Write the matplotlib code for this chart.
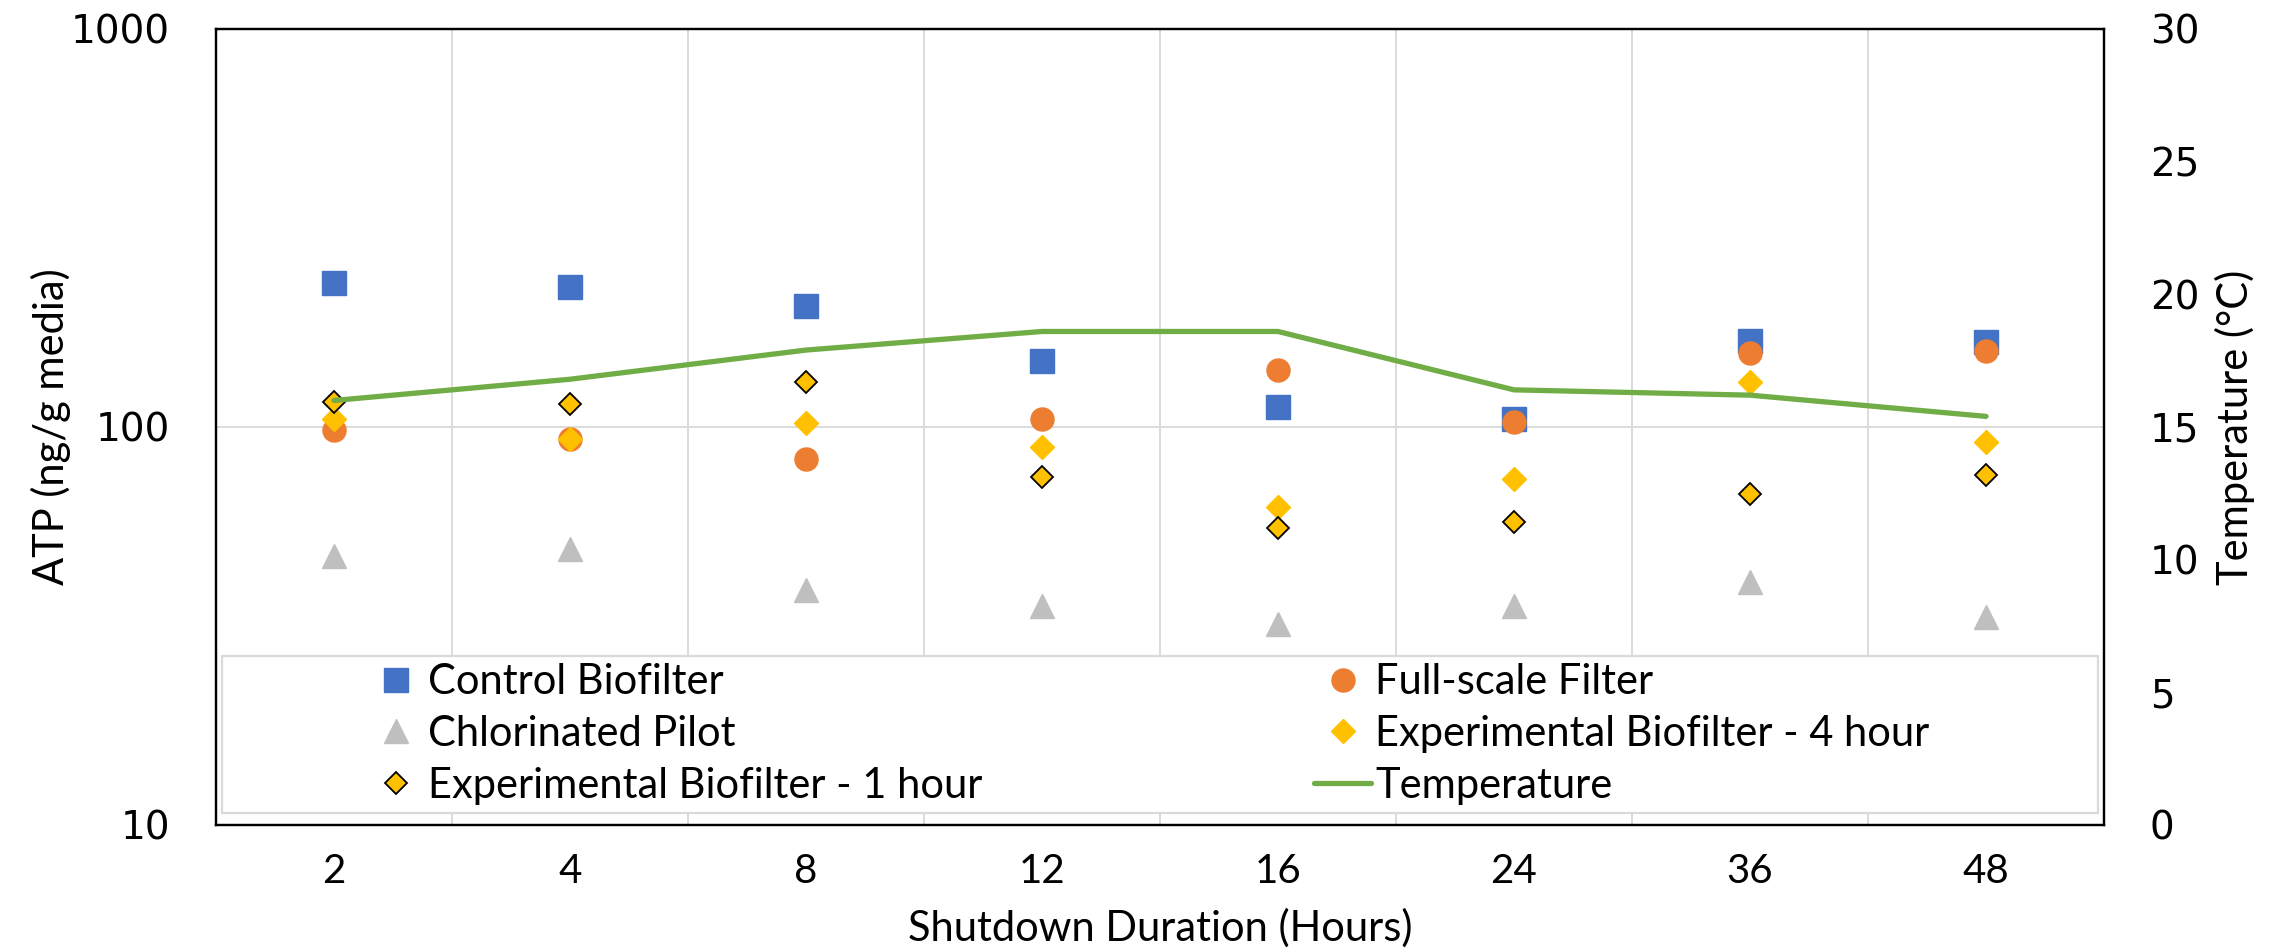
import numpy as np
import matplotlib
matplotlib.use("Agg")
from matplotlib import pyplot as plt
from matplotlib.patches import Rectangle
from matplotlib.ticker import FixedLocator, NullLocator, FixedFormatter


# shutdown durations (categorical x axis)
hours = ['2', '4', '8', '12', '16', '24', '36', '48']

# ATP (ng/g media), log axis
control = [230, 225, 201.6, 146.2, 112.3, 104.9, 164, 163.4]
full_scale = [98.3, 93.3, 82.9, 104.9, 139.3, 103, 153.8, 155.2]
chlorinated = [47.3, 49.3, 38.9, 35.4, 31.9, 35.4, 40.8, 33.4]
exp_4h = [105, 93.1, 102.2, 89.2, 63.1, 73.9, 130.1, 91.9]
exp_1h = [115.8, 114, 129.6, 74.9, 55.9, 57.8, 67.9, 75.8]

# temperature (deg C), right axis
temperature = [16.0, 16.8, 17.9, 18.6, 18.6, 16.4, 16.2, 15.4]

BLUE = '#4472C4'
ORANGE = '#ED7D31'
GRAY = '#BFBFBF'
YELLOW = '#FFC000'
GREEN = '#70AD47'
GRID = '#D9D9D9'

TXT_FONT = ['Lato', 'DejaVu Sans']
NUM_FONT = ['DejaVu Sans']

plt.rcParams['font.family'] = TXT_FONT

fig = plt.figure(figsize=(22.8, 9.51), dpi=100)
ax = fig.add_axes([216 / 2280, 1 - 825 / 951, 1888 / 2280, 796 / 951])
ax2 = ax.twinx()

x = np.arange(len(hours))
MS = 16.6

h_ctrl, = ax.plot(x, control, ls='none', marker='s', ms=MS, color=BLUE,
                  mec=BLUE, label='Control Biofilter')
h_full, = ax.plot(x, full_scale, ls='none', marker='o', ms=MS, color=ORANGE,
                  mec=ORANGE, label='Full-scale Filter')
h_chl, = ax.plot(x, chlorinated, ls='none', marker='^', ms=MS, color=GRAY,
                 mec=GRAY, label='Chlorinated Pilot')
h_4h, = ax.plot(x, exp_4h, ls='none', marker='D', ms=12.0, color=YELLOW,
                mec=YELLOW, label='Experimental Biofilter - 4 hour')
h_1h, = ax.plot(x, exp_1h, ls='none', marker='D', ms=11.4, color=YELLOW,
                mec='black', mew=1.3, label='Experimental Biofilter - 1 hour')
h_temp, = ax2.plot(x, temperature, color=GREEN, lw=3.8,
                   solid_capstyle='round', label='Temperature')

# left axis: log scale
ax.set_yscale('log')
ax.set_ylim(10, 1000)
ax.yaxis.set_major_locator(FixedLocator([10, 100, 1000]))
ax.yaxis.set_major_formatter(FixedFormatter(['10', '100', '1000']))
ax.yaxis.set_minor_locator(NullLocator())
ax.set_xlim(-0.5, len(hours) - 0.5)
ax.set_xticks(x)
ax.set_xticklabels(hours)
ax.set_xticks(np.arange(len(hours) - 1) + 0.5, minor=True)

ax.grid(True, axis='y', which='major', color=GRID, lw=1.3)
ax.grid(True, axis='x', which='minor', color=GRID, lw=1.3)
ax.set_axisbelow(True)

ax2.set_ylim(0, 30)
ax2.set_yticks(np.arange(0, 31, 5))

ax.tick_params(axis='both', which='both', length=0)
ax2.tick_params(axis='both', which='both', length=0)
ax.tick_params(axis='x', pad=20, labelsize=29)
ax.tick_params(axis='y', pad=33)
ax2.tick_params(axis='y', pad=33)
for lab in ax.get_yticklabels() + ax2.get_yticklabels():
    lab.set_fontfamily(NUM_FONT)
    lab.set_fontsize(28)

for a in (ax, ax2):
    for sp in a.spines.values():
        sp.set_color('black')
        sp.set_linewidth(1.6)

ax.set_xlabel('Shutdown Duration (Hours)', fontsize=30)
ax.xaxis.set_label_coords(0.5, (825 - 928) / 796)
ax.xaxis.label.set_va('center')
ax.set_ylabel('ATP (ng/g media)', fontsize=30)
ax.yaxis.set_label_coords((51 - 216) / 1888, 0.5)
ax.yaxis.label.set_va('center')
ax2.set_ylabel('Temperature (°C)', fontsize=30)
ax2.yaxis.set_label_coords((2235 - 216) / 1888, 0.5)
ax2.yaxis.label.set_va('center')

# legend frame drawn by hand, entries laid out in two columns like Excel
box = Rectangle((6 / 1888, 12 / 796), (2098 - 222) / 1888, (813 - 656) / 796,
                transform=ax2.transAxes, facecolor='white', edgecolor=GRID,
                lw=1.6, zorder=4)
ax2.add_patch(box)

leg_kw = dict(frameon=False, fontsize=30, handlelength=1.37, handletextpad=0.1,
              borderpad=0, borderaxespad=0, labelspacing=0.33, loc='center left',
              numpoints=1)
leg1 = ax2.legend([h_ctrl, h_chl, h_1h],
                  ['Control Biofilter', 'Chlorinated Pilot',
                   'Experimental Biofilter - 1 hour'],
                  bbox_to_anchor=((367 - 216) / 1888, (825 - 734) / 796), **leg_kw)
ax2.add_artist(leg1)
leg2 = ax2.legend([h_full, h_4h, h_temp],
                  ['Full-scale Filter', 'Experimental Biofilter - 4 hour',
                   'Temperature'],
                  bbox_to_anchor=((1314 - 216) / 1888, (825 - 734) / 796), **leg_kw)
leg1.set_zorder(5)
leg2.set_zorder(5)

fig.savefig('out.png', dpi=100)
